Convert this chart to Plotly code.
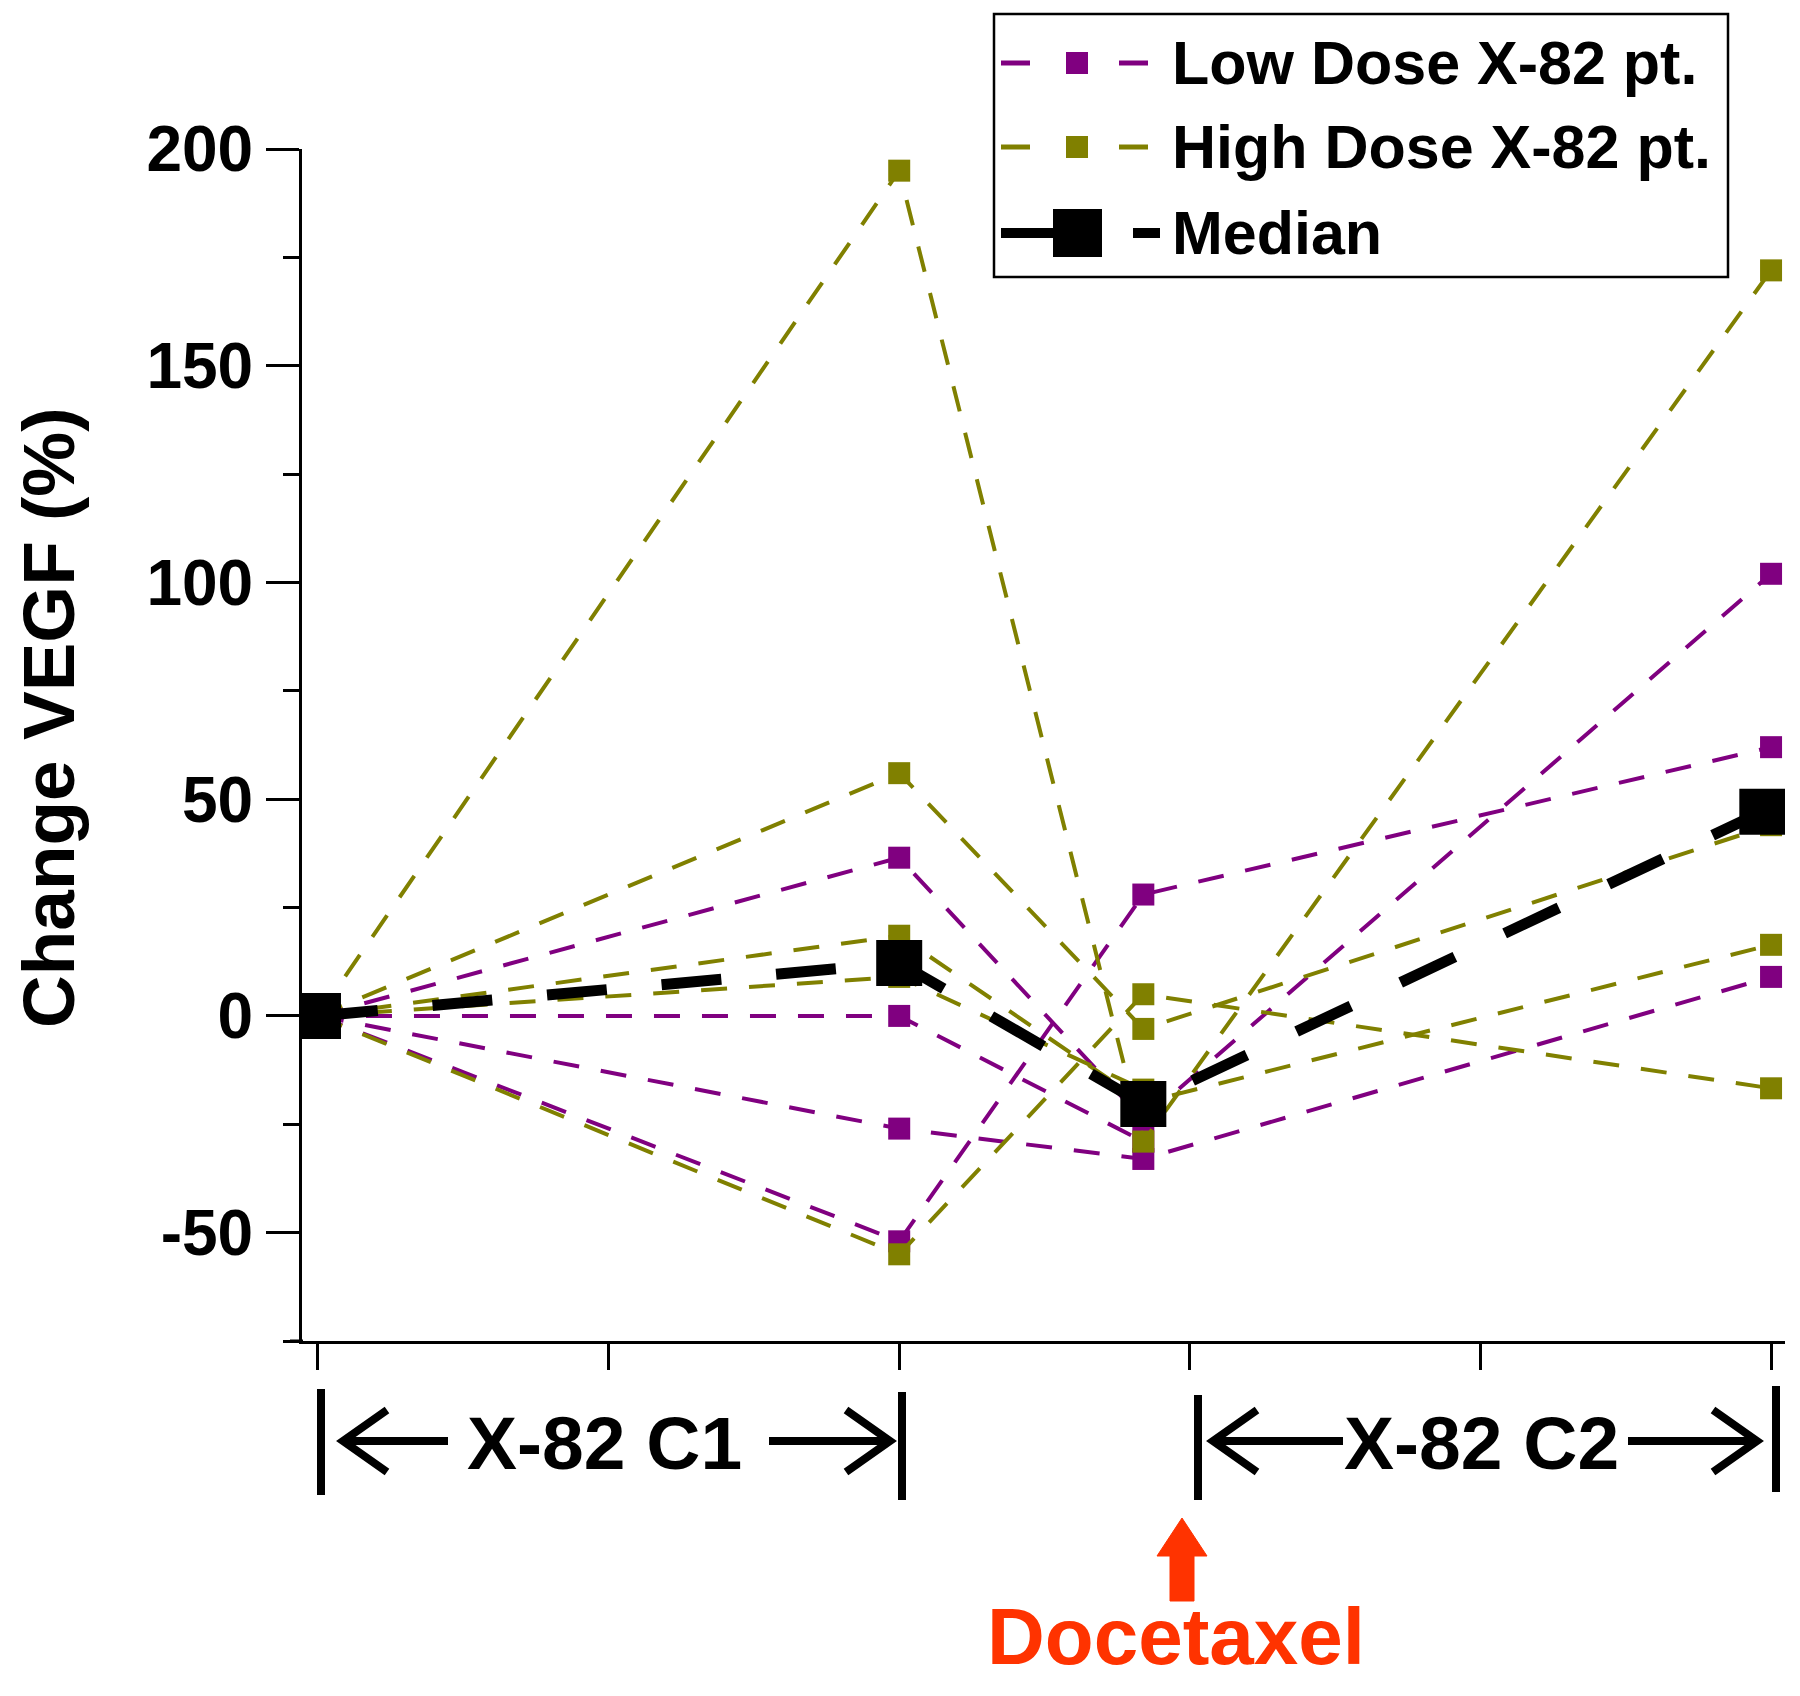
import plotly.graph_objects as go

# ---------------- data ----------------
times = [0, 2, 2.84, 5]
median_times = [0, 2, 2.84, 4.97]

low_pt1 = [0, 36.5, -24, 102]
low_pt2 = [0, 0, -29, None]
low_pt3 = [0, -26, -33, 9]
low_pt4 = [0, -52, 28, 62]

high_pt1 = [0, 195, -29, 172]
high_pt2 = [0, 56, -3, 44]
high_pt3 = [0, 18.5, -20, 16.4]
high_pt4 = [0, 9, -17, None]
high_pt5 = [0, -55, 5, -16.7]

median_vals = [0, 12.2, -20.3, 47.1]

y_ticks = [-50, 0, 50, 100, 150, 200]
y_ticktext = ["-50", "0", "50", "100", "150", "200"]
y_minor = [-75, -25, 25, 75, 125, 175]
x_ticks = [0, 1, 2, 3, 4, 5]

legend_labels = ["Low Dose X-82 pt.", "High Dose X-82 pt.", "Median"]
cycle_labels = ["X-82 C1", "X-82 C2"]
drug_label = "Docetaxel"
y_title = "Change VEGF (%)"

PURPLE = "#800080"
OLIVE = "#808000"
BLACK = "#000000"
RED = "#FF3300"
FONT = "Liberation Sans, Arial, sans-serif"

# page has an 8px body margin; layout coordinates = page coordinates - 8
OFF = 8
W, H = 1784, 1680
ML = 302 - OFF
MT = 149 - OFF
MB = H - (1341 - OFF)
MR = W - (1785 - OFF)
PW = W - ML - MR
PH = H - MT - MB


def px(x):
    return (x - OFF - ML) / PW


def py(y):
    return (H - MB - (y - OFF)) / PH


fig = go.Figure()

for vals in [low_pt1, low_pt2, low_pt3, low_pt4]:
    fig.add_trace(go.Scatter(
        x=times, y=vals, mode="lines+markers", name=legend_labels[0],
        showlegend=False, connectgaps=False,
        line=dict(color=PURPLE, width=4, dash="26px,22px"),
        marker=dict(symbol="square", size=22, color=PURPLE),
    ))

for vals in [high_pt1, high_pt2, high_pt3, high_pt4, high_pt5]:
    fig.add_trace(go.Scatter(
        x=times, y=vals, mode="lines+markers", name=legend_labels[1],
        showlegend=False, connectgaps=False,
        line=dict(color=OLIVE, width=4, dash="26px,22px"),
        marker=dict(symbol="square", size=22, color=OLIVE),
    ))

fig.add_trace(go.Scatter(
    x=median_times, y=median_vals, mode="lines+markers", name=legend_labels[2],
    showlegend=False,
    line=dict(color=BLACK, width=11, dash="60px,55px"),
    marker=dict(symbol="square", size=46, color=BLACK),
))

shapes = []
annotations = []

# small overhang of the x axis line to the left of the y axis
shapes.append(dict(type="line", xref="paper", yref="paper",
                   x0=px(290), x1=px(303), y0=py(1341), y1=py(1341),
                   line=dict(color=BLACK, width=3)))

# ---------------- custom legend ----------------
shapes.append(dict(type="rect", xref="paper", yref="paper",
                   x0=px(994), x1=px(1728), y0=py(14), y1=py(277),
                   line=dict(color=BLACK, width=2.5), fillcolor="white", layer="above"))
rows_y = [63, 147, 233]
for i, (lab, col) in enumerate(zip(legend_labels, [PURPLE, OLIVE, BLACK])):
    yy = py(rows_y[i])
    if i < 2:
        for a, b in [(1001, 1030), (1119, 1148)]:
            shapes.append(dict(type="line", xref="paper", yref="paper",
                               x0=px(a), x1=px(b), y0=yy, y1=yy,
                               line=dict(color=col, width=5), layer="above"))
        shapes.append(dict(type="rect", xref="paper", yref="paper",
                           x0=px(1066), x1=px(1088), y0=py(rows_y[i] + 11), y1=py(rows_y[i] - 11),
                           line=dict(width=0), fillcolor=col, layer="above"))
    else:
        for a, b in [(1001, 1060), (1133, 1160)]:
            shapes.append(dict(type="line", xref="paper", yref="paper",
                               x0=px(a), x1=px(b), y0=yy, y1=yy,
                               line=dict(color=col, width=10), layer="above"))
        shapes.append(dict(type="rect", xref="paper", yref="paper",
                           x0=px(1053), x1=px(1102), y0=py(rows_y[i] + 24), y1=py(rows_y[i] - 24),
                           line=dict(width=0), fillcolor=col, layer="above"))
    annotations.append(dict(xref="paper", yref="paper", x=px(1170), y=yy,
                            xanchor="left", yanchor="middle", showarrow=False,
                            text=lab, font=dict(family=FONT, size=61, color=BLACK, weight="bold")))

# ---------------- y axis title ----------------
annotations.append(dict(xref="paper", yref="paper", x=px(48), y=py(718),
                        xanchor="center", yanchor="middle", showarrow=False, textangle=-90,
                        text=y_title, font=dict(family=FONT, size=73, color=BLACK, weight="bold")))

# ---------------- cycle brackets under axis ----------------
def bar(x, y0, y1):
    shapes.append(dict(type="line", xref="paper", yref="paper",
                       x0=px(x), x1=px(x), y0=py(y0), y1=py(y1),
                       line=dict(color=BLACK, width=8)))


def arrow(x_tail, x_tip, y):
    d = 1 if x_tip > x_tail else -1
    shapes.append(dict(type="line", xref="paper", yref="paper",
                       x0=px(x_tail), x1=px(x_tip - d * 4), y0=py(y), y1=py(y),
                       line=dict(color=BLACK, width=8)))
    path = "M {} {} L {} {} L {} {}".format(
        px(x_tip - d * 44), py(y - 31), px(x_tip), py(y), px(x_tip - d * 44), py(y + 31))
    shapes.append(dict(type="path", xref="paper", yref="paper", path=path,
                       line=dict(color=BLACK, width=8)))

ya = 1441
bar(321, 1389, 1495)
bar(902, 1392, 1500)
arrow(448, 343, ya)
arrow(769, 890, ya)
annotations.append(dict(xref="paper", yref="paper", x=px(604), y=py(ya + 2),
                        xanchor="center", yanchor="middle", showarrow=False,
                        text=cycle_labels[0], font=dict(family=FONT, size=75, color=BLACK, weight="bold")))

bar(1198, 1395, 1500)
bar(1776, 1386, 1492)
arrow(1343, 1213, ya)
arrow(1628, 1757, ya)
annotations.append(dict(xref="paper", yref="paper", x=px(1481), y=py(ya + 2),
                        xanchor="center", yanchor="middle", showarrow=False,
                        text=cycle_labels[1], font=dict(family=FONT, size=75, color=BLACK, weight="bold")))

# ---------------- docetaxel arrow ----------------
tipx, tipy, baseY, botY = 1182, 1518, 1556, 1601
arrow_path = "M {} {} L {} {} L {} {} L {} {} L {} {} L {} {} L {} {} Z".format(
    px(tipx), py(tipy),
    px(tipx + 25), py(baseY),
    px(tipx + 12), py(baseY),
    px(tipx + 12), py(botY),
    px(tipx - 12), py(botY),
    px(tipx - 12), py(baseY),
    px(tipx - 25), py(baseY))
shapes.append(dict(type="path", xref="paper", yref="paper", path=arrow_path,
                   fillcolor=RED, line=dict(color=RED, width=1)))
annotations.append(dict(xref="paper", yref="paper", x=px(1176), y=py(1636),
                        xanchor="center", yanchor="middle", showarrow=False,
                        text=drug_label, font=dict(family=FONT, size=80, color=RED, weight="bold")))

fig.update_layout(
    width=W, height=H,
    margin=dict(l=ML, r=MR, t=MT, b=MB, autoexpand=False),
    paper_bgcolor="white", plot_bgcolor="white",
    showlegend=False,
    shapes=shapes, annotations=annotations,
    xaxis=dict(range=[-0.055, 5.048], showgrid=False, zeroline=False,
               showline=True, linecolor=BLACK, linewidth=3,
               ticks="outside", ticklen=26, tickwidth=3, tickcolor=BLACK,
               tickvals=x_ticks, showticklabels=False),
    yaxis=dict(range=[-75, 200], showgrid=False, zeroline=False,
               showline=True, linecolor=BLACK, linewidth=3,
               ticks="outside", ticklen=33, tickwidth=3, tickcolor=BLACK,
               tickvals=y_ticks, ticktext=y_ticktext,
               tickfont=dict(family=FONT, size=64, color=BLACK, weight="bold"),
               minor=dict(tickvals=y_minor, ticks="outside", ticklen=16, tickwidth=3, tickcolor=BLACK)),
)

fig.write_html("out.html")
